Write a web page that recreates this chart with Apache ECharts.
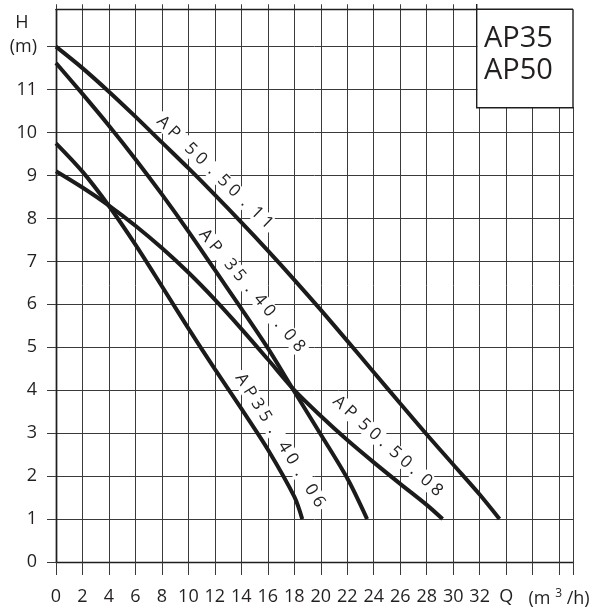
<!DOCTYPE html>
<html>
<head>
<meta charset="utf-8">
<script src="https://cdn.jsdelivr.net/npm/echarts@6/dist/echarts.min.js"></script>
<style>
html,body{margin:0;padding:0;background:#fff;}
#chart{width:600px;height:610px;}
</style>
</head>
<body>
<div id="chart"></div>
<script>
// ---- data ----
const qTickLabels = [0,2,4,6,8,10,12,14,16,18,20,22,24,26,28,30,32];
const hTickLabels = [0,1,2,3,4,5,6,7,8,9,10,11];

const ap505011_Q = [0,2,4,6,8,10,12,14,16,18,20,22,24,26,28,30,32,33.5];
const ap505011_H = [12.0,11.5,10.95,10.37,9.77,9.17,8.55,7.91,7.25,6.57,5.87,5.15,4.42,3.69,2.97,2.27,1.57,1.0];

const ap354008_Q = [0,2,4,6,8,10,12,14,16,18,20,22,23.5];
const ap354008_H = [11.62,10.9,10.16,9.38,8.56,7.7,6.8,5.9,4.98,3.97,2.97,1.95,1.0];

const ap505008_Q = [0,2,4,6,8,10,12,14,16,18,20,22,24,26,28,29.2];
const ap505008_H = [9.1,8.72,8.3,7.83,7.31,6.74,6.11,5.43,4.72,4.0,3.4,2.84,2.32,1.82,1.33,1.0];

const ap354006_Q = [0,2,4,6,8,10,12,14,16,18,18.6];
const ap354006_H = [9.75,9.09,8.29,7.39,6.42,5.44,4.49,3.57,2.62,1.52,1.0];

const curveNames = ['AP 50.50.11','AP 35.40.08','AP 50.50.08','AP35.40.06'];
const curveLabelTexts = ['A P   5 0  .  5 0  .  1 1','A P   3 5  .  4 0  .  0 8','A P  5 0 .  5 0 .  0 8','A P 3 5  .   4 0  .   0 6'];
const curveLabelQ = [12.0, 14.8, 25.05, 16.92];
const curveLabelH = [9.07, 6.32, 2.70, 2.83];
const curveLabelAngle = [-44, -50, -42, -58];

// ---- build ----
function pairs(q, h){ return q.map((v,i)=>[v,h[i]]); }
const curves = [
  pairs(ap505011_Q, ap505011_H),
  pairs(ap354008_Q, ap354008_H),
  pairs(ap505008_Q, ap505008_H),
  pairs(ap354006_Q, ap354006_H)
];

const FONT = '"Open Sans", "Noto Sans", sans-serif';
const INK = '#231f20';
const GRIDC = '#3a3a3a';
const QMAX = 39.05, HMAX = 12.87;

const series = curves.map((d,i)=>({
  name: curveNames[i], type:'line', data:d, xAxisIndex:0, yAxisIndex:0,
  showSymbol:false, symbol:'none', smooth:0.3, z:5,
  lineStyle:{color:'#1b1b1b', width:4, cap:'butt'}
}));
series.push({
  name:'labels', type:'scatter', xAxisIndex:0, yAxisIndex:0, z:6,
  symbolSize:1, itemStyle:{color:'rgba(0,0,0,0)'}, silent:true,
  data: curveLabelTexts.map((t,i)=>({
    value:[curveLabelQ[i], curveLabelH[i]], name:t,
    label:{rotate:curveLabelAngle[i]}
  })),
  label:{
    show:true, position:'inside', formatter:p=>p.name,
    fontFamily:FONT, fontSize:17, color:INK, opacity:1,
    backgroundColor:'#fff', padding:[0,3]
  }
});

const chart = echarts.init(document.getElementById('chart'), null, {renderer:'canvas'});
chart.setOption({
  animation:false,
  backgroundColor:'#fff',
  grid:{left:56, right:27, top:9.3, bottom:48, containLabel:false},
  xAxis:[
    { type:'value', position:'bottom', min:0, max:QMAX, interval:2,
      axisLine:{show:false},
      axisTick:{show:true, length:13, lineStyle:{color:GRIDC, width:1}},
      axisLabel:{
        show:true, margin:26, fontFamily:FONT, fontSize:18, color:INK,
        formatter:v=>{
          if (v===34) return 'Q';
          if (v===38) return '{a|(m }{s|3}{a| /h)}';
          return qTickLabels.indexOf(v)>=0 ? String(v) : '';
        },
        rich:{
          a:{fontFamily:FONT, fontSize:18, color:INK, lineHeight:22},
          s:{fontFamily:FONT, fontSize:12, color:INK, lineHeight:12, verticalAlign:'top'}
        }
      },
      splitLine:{show:true, lineStyle:{color:GRIDC, width:1}}
    },
    { type:'value', position:'bottom', offset:5.7, min:0, max:QMAX, interval:2,
      axisLine:{show:true, lineStyle:{color:'#1e1e1e', width:1.4}},
      axisTick:{show:false}, axisLabel:{show:false}, splitLine:{show:false}
    },
    { type:'value', position:'top', min:0, max:QMAX, interval:2,
      axisLine:{show:true, lineStyle:{color:'#1e1e1e', width:1.4}},
      axisTick:{show:true, length:5, lineStyle:{color:GRIDC, width:1}},
      axisLabel:{show:false}, splitLine:{show:false}
    }
  ],
  yAxis:[
    { type:'value', position:'left', min:0, max:HMAX, interval:1,
      axisLine:{show:true, lineStyle:{color:'#1e1e1e', width:1.4}},
      axisTick:{show:true, length:9, lineStyle:{color:GRIDC, width:1},
        customValues:[0,1,2,3,4,5,6,7,8,9,10,11,12]},
      axisLabel:{
        show:true, margin:19, fontFamily:FONT, fontSize:18, color:INK,
        customValues:[0,1,2,3,4,5,6,7,8,9,10,11,12],
        formatter:v=>{
          if (v===12) return '(m)';
          return hTickLabels.indexOf(v)>=0 ? String(v) : '';
        }
      },
      splitLine:{show:true, lineStyle:{color:GRIDC, width:1}}
    },
    { type:'value', position:'right', min:0, max:HMAX, interval:1,
      axisLine:{show:true, lineStyle:{color:'#1e1e1e', width:1.4}},
      axisTick:{show:false}, axisLabel:{show:false}, splitLine:{show:false}
    }
  ],
  graphic:[
    { type:'rect', z:100, silent:true,
      shape:{x:477.4, y:0, width:102, height:107},
      style:{fill:'#fff'} },
    { type:'line', z:101, silent:true,
      shape:{x1:476.7, y1:9.3, x2:573, y2:9.3},
      style:{stroke:'#1e1e1e', lineWidth:1.4} },
    { type:'polyline', z:101, silent:true,
      shape:{points:[[476.7,4],[476.7,107.7],[573,107.7],[573,9.3]]},
      style:{stroke:'#1e1e1e', lineWidth:1.4, fill:null} },
    { type:'text', z:102, silent:true, x:484, y:38.5,
      style:{text:'AP35', font:'29px ' + FONT, fill:INK, verticalAlign:'middle'} },
    { type:'text', z:102, silent:true, x:484, y:71,
      style:{text:'AP50', font:'29px ' + FONT, fill:INK, verticalAlign:'middle'} },
    { type:'text', z:102, silent:true, x:22, y:23,
      style:{text:'H', font:'18px ' + FONT, fill:INK, align:'center', verticalAlign:'middle'} }
  ],
  series:series
});
</script>
</body>
</html>
